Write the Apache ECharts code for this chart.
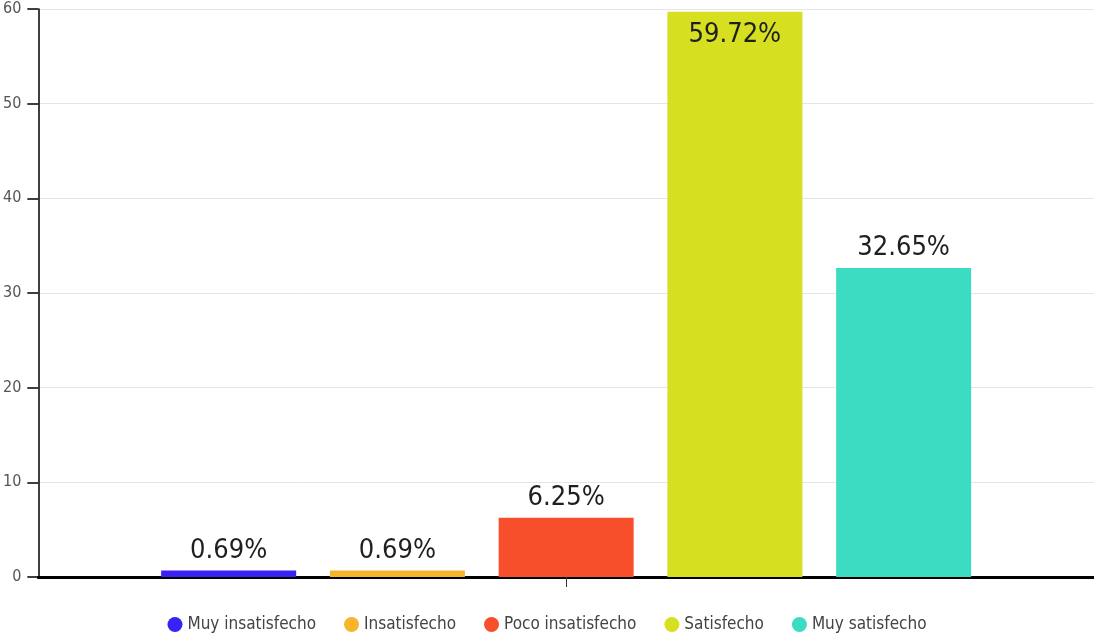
<!DOCTYPE html>
<html>
<head>
<meta charset="utf-8">
<script src="https://cdn.jsdelivr.net/npm/echarts@6/dist/echarts.min.js"></script>
<style>
  html, body { margin: 0; padding: 0; background: #fff; }
  #chart { width: 1094px; height: 635px; }
</style>
</head>
<body>
<div id="chart"></div>
<script>
// Satisfaction levels (percent of respondents)
const categories = ['Muy insatisfecho', 'Insatisfecho', 'Poco insatisfecho', 'Satisfecho', 'Muy satisfecho'];
const values = [0.69, 0.69, 6.25, 59.72, 32.65];
const colors = ['#3a21f5', '#f7b52c', '#f74f2c', '#d6e021', '#3cdcc2'];
const yTicks = { min: 0, max: 60, interval: 10 };

const narrow = "'Liberation Sans Narrow','DejaVu Sans Condensed','Roboto',sans-serif";

const series = categories.map((name, i) => {
  const inside = values[i] > 55;
  return {
    name: name,
    type: 'bar',
    data: [values[i]],
    barWidth: 135,
    barGap: '25%',
    itemStyle: { color: colors[i] },
    label: {
      show: true,
      position: inside ? 'insideTop' : 'top',
      distance: inside ? 10 : 6,
      formatter: p => p.value.toFixed(2) + '%',
      fontFamily: narrow,
      fontSize: 27,
      color: '#1f1f1f'
    }
  };
});

const chart = echarts.init(document.getElementById('chart'));
chart.setOption({
  animation: false,
  grid: { left: 37, right: 0, top: 9, bottom: 58, containLabel: false },
  legend: {
    top: 611,
    left: 'center',
    icon: 'circle',
    itemWidth: 15,
    itemHeight: 15,
    itemGap: 28,
    textStyle: { fontFamily: narrow, fontSize: 17, color: '#444' }
  },
  xAxis: {
    type: 'category',
    data: [''],
    axisLine: { lineStyle: { color: '#000', width: 3 } },
    axisTick: { show: true, alignWithLabel: true, length: 10, lineStyle: { color: '#333', width: 1 } },
    axisLabel: { show: false }
  },
  yAxis: {
    type: 'value',
    min: yTicks.min,
    max: yTicks.max,
    interval: yTicks.interval,
    axisLine: { show: true, lineStyle: { color: '#000', width: 1.5 } },
    axisTick: { show: true, length: 11, lineStyle: { color: '#000', width: 1.5 } },
    axisLabel: { fontFamily: narrow, fontSize: 16, color: '#555', margin: 17 },
    splitLine: { lineStyle: { color: '#e5e5e5' } }
  },
  series: series
});
</script>
</body>
</html>
